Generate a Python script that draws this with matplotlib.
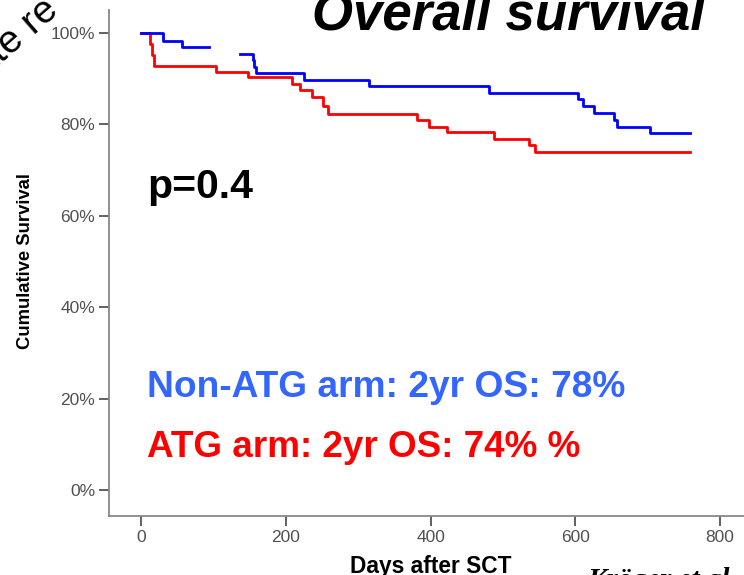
import numpy as np
import matplotlib
matplotlib.use("Agg")
import matplotlib.pyplot as plt

plt.rcParams["font.family"] = ["Liberation Sans", "DejaVu Sans"]

# Kaplan-Meier steps: day of each event and survival (%) after it
# (nan marks the stretch where the non-ATG curve is not drawn)
blue_days = [0, 30, 57, 94, 137, 154.5, 156.5, 159, 225, 315, 480, 604, 610,
             626, 653.5, 658, 703, 758]
blue_surv = [100, 98.3, 97.0, np.nan, 95.4, 94.0, 92.6, 91.3, 89.7, 88.3,
             86.8, 85.5, 83.9, 82.4, 81.0, 79.5, 78.0, 78.0]
red_days = [0, 13, 15.5, 18.5, 103.6, 148, 208, 219.7, 236, 251, 258, 381,
            398, 422, 487, 536.5, 544, 758]
red_surv = [100, 97.5, 95.2, 92.8, 91.4, 90.3, 88.8, 87.4, 85.9, 83.9, 82.3,
            81.0, 79.5, 78.3, 76.7, 75.5, 74.0, 74.0]

x_ticks = [0, 200, 400, 600, 800]
y_ticks = [0, 20, 40, 60, 80, 100]
p_value = 0.4
os_non_atg = blue_surv[-1]
os_atg = red_surv[-1]

W, H = 744, 575
fig = plt.figure(figsize=(W / 100, H / 100), dpi=100)


def px(x, y):
    return x / W, 1 - y / H


ax = fig.add_axes([109 / W, 1 - 516 / H, 651 / W, 506 / H])
ax.step(red_days, red_surv, where="post", color="#ff0000", lw=2)
ax.step(blue_days, blue_surv, where="post", color="#0000ff", lw=2)

ax.set_xlim(-44.2, 855)
ax.set_ylim(-5.7, 105)
ax.set_xticks(x_ticks)
ax.set_yticks(y_ticks)
ax.set_yticklabels([f"{v}%" for v in y_ticks])
for side in ("top", "right"):
    ax.spines[side].set_visible(False)
for side in ("left", "bottom"):
    ax.spines[side].set_color("#888888")
    ax.spines[side].set_linewidth(1.3)
ax.tick_params(colors="#555555", labelcolor="#505050", labelsize=12.5,
               length=7, width=1.3, pad=3)

# labels and annotations
fig.text(*px(26, 261), "Cumulative Survival", rotation=90, ha="center",
         va="center", fontsize=13.3, fontweight="bold")
fig.text(*px(431, 573), "Days after SCT", ha="center", va="baseline",
         fontsize=16.4, fontweight="bold")
fig.text(*px(312, 30), "Overall survival", ha="left", va="baseline",
         fontsize=38, fontweight="bold", fontstyle="italic")
fig.text(*px(147, 198), f"p={p_value}", ha="left", va="baseline",
         fontsize=29.5, fontweight="bold")
fig.text(*px(147, 397), f"Non-ATG arm: 2yr OS: {os_non_atg:.0f}%", ha="left",
         va="baseline", fontsize=26.7, fontweight="bold", color="#3366ff")
fig.text(*px(147, 457), f"ATG arm: 2yr OS: {os_atg:.0f}% %", ha="left",
         va="baseline", fontsize=26.6, fontweight="bold", color="#ff0000")
fig.text(*px(587, 588), "Kröger et al.", ha="left", va="baseline",
         fontsize=21, fontstyle="italic", fontweight="bold",
         family=["Liberation Serif", "DejaVu Serif"])
fig.text(*px(16, 38), "ate re", rotation=41, rotation_mode="anchor",
         ha="center", va="center", fontsize=28)

fig.savefig("out.png", dpi=100)
